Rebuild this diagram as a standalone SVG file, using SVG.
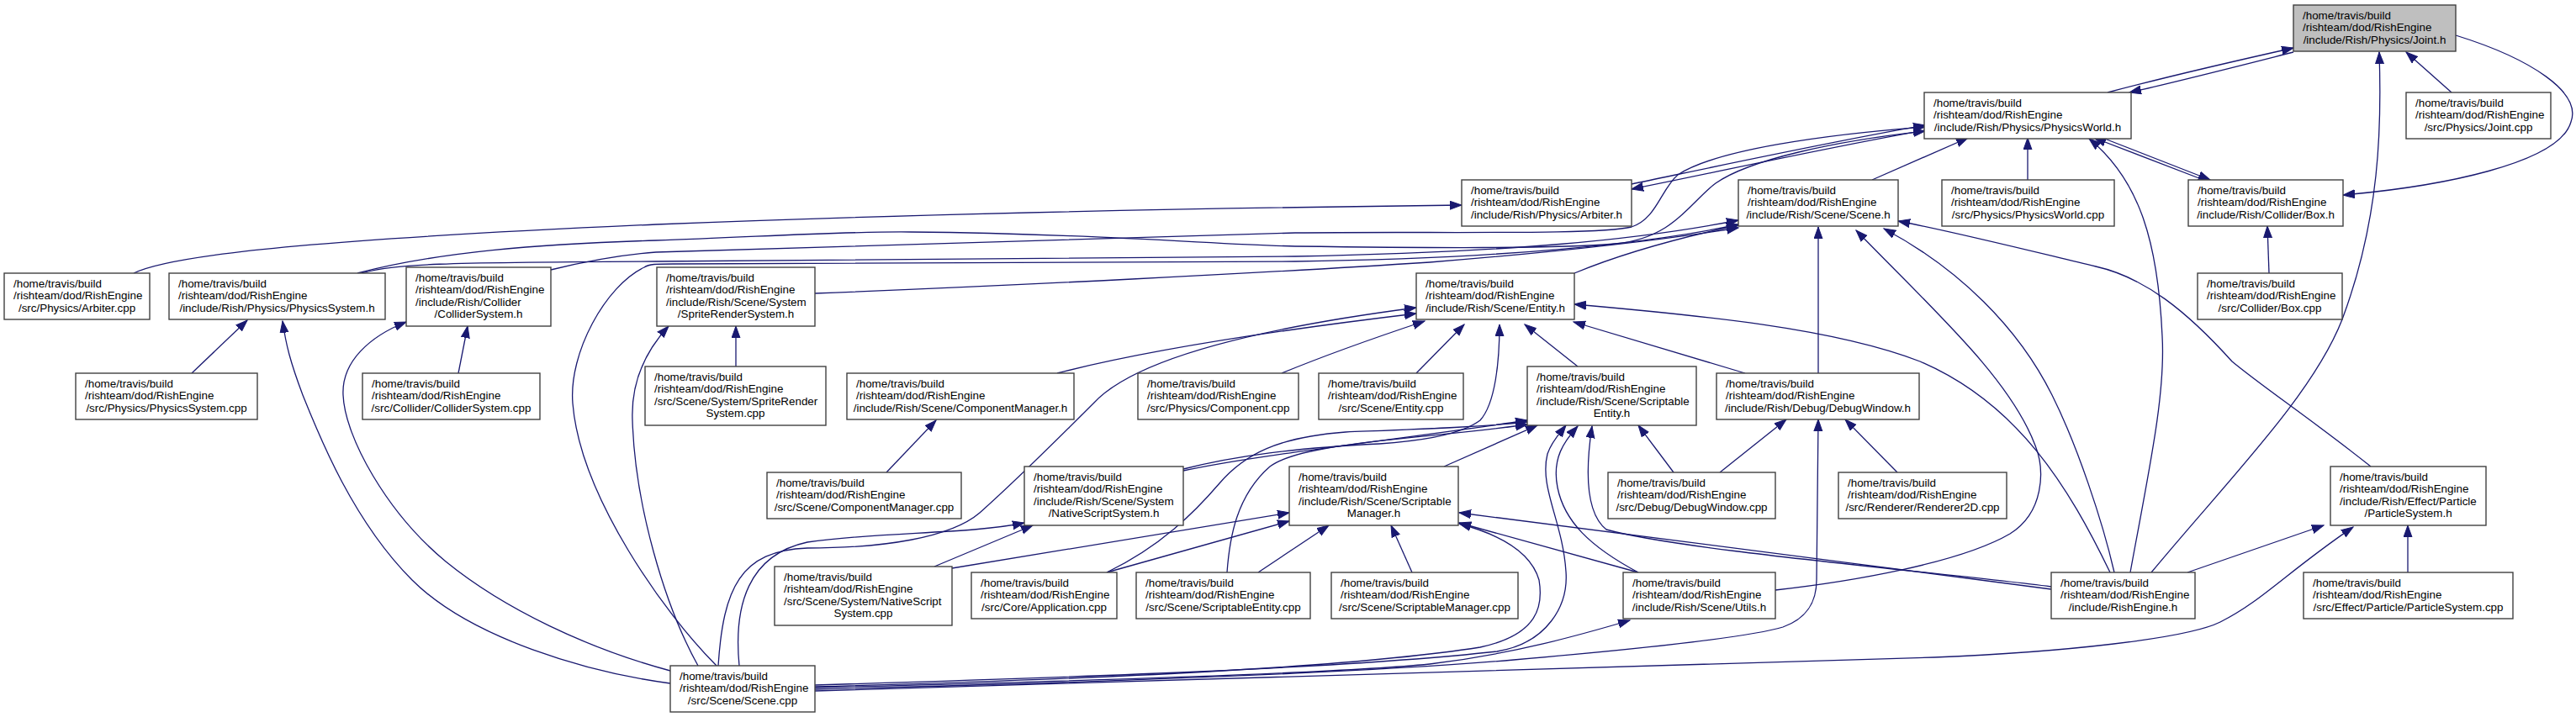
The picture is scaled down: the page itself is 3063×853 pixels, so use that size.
<svg xmlns="http://www.w3.org/2000/svg" width="3063" height="853" viewBox="0 0 3063 853">
<style>
.n rect{fill:#ffffff;stroke:#404040;stroke-width:1.4}
.n text{font-family:"Liberation Sans",Arial,sans-serif;font-size:13.4px;fill:#000000}
.n .c{text-anchor:middle}
.e path{fill:none;stroke:#191970;stroke-width:1.3;marker-end:url(#ah)}
</style>
<defs>
<marker id="ah" markerUnits="userSpaceOnUse" markerWidth="16" markerHeight="12" refX="14" refY="5.5" orient="auto" viewBox="0 0 16 12">
<path d="M0,0.5 L14,5.5 L0,10.5 z" fill="#191970" stroke="#191970" stroke-width="1"/>
</marker>
</defs>
<rect x="0" y="0" width="3063" height="853" fill="#ffffff"/>
<g id="edges" class="e">
<path d="M2506,110 C2570,93 2660,72 2727,57"/>
<path d="M2727,62 C2660,79 2590,97 2532,110"/>
<path d="M2915,110 L2861,62"/>
<path d="M2920,42 C3010,70 3070,110 3057,145 C3043,195 2900,222 2786,232"/>
<path d="M2558,681 C2650,570 2750,470 2785,380 C2830,260 2832,150 2829,62"/>
<path d="M2500,164 L2628,214"/>
<path d="M2620,214 L2490,164"/>
<path d="M2411,214 L2411,164"/>
<path d="M2698,325 L2696,269"/>
<path d="M2226,214 L2340,164"/>
<path d="M2533,681 C2555,560 2575,470 2571,400 C2566,290 2545,215 2484,165"/>
<path d="M1940,219 C2050,196 2180,168 2289,149"/>
<path d="M2289,155 C2180,174 2050,203 1940,225"/>
<path d="M159,325 C210,300 420,283 780,267 C1100,254 1400,248 1738,244"/>
<path d="M425,325 C520,300 640,290 780,286 C900,282 1000,275 1083,276 C1300,278 1450,291 1540,293 C1700,295 1850,296 1920,290 C1990,284 2010,240 2040,218 C2080,190 2180,168 2289,156"/>
<path d="M655,321 C700,310 740,303 780,300 C1100,290 1400,280 1540,277 C1700,275 1900,280 1940,270 C1970,260 1975,225 1995,208 C2040,178 2170,160 2289,151"/>
<path d="M430,325 C470,314 520,312 780,311 L1540,305 C1800,300 1950,285 2067,262"/>
<path d="M852,792 C790,730 690,590 681,480 C676,420 720,340 766,318 C772,314 780,314 800,314 L1540,311 C1800,307 1960,290 2067,267"/>
<path d="M969,349 C1200,340 1500,325 1700,312 C1850,300 1980,285 2067,271"/>
<path d="M1872,325 C1940,297 2010,280 2067,268"/>
<path d="M797,813 C700,800 560,760 490,690 C420,620 380,520 360,470 C345,430 340,410 336,382"/>
<path d="M797,798 C700,772 600,725 530,668 C460,610 410,520 408,470 C406,430 440,400 483,383"/>
<path d="M830,792 C790,720 755,600 752,500 C750,450 770,415 795,388"/>
<path d="M875,436 L875,388"/>
<path d="M228,444 L294,381"/>
<path d="M545,444 L556,388"/>
<path d="M879,792 C872,720 890,660 960,645 C1050,632 1150,636 1218,622"/>
<path d="M854,792 C860,700 880,655 960,652 C1050,652 1130,640 1165,610 C1210,570 1260,520 1300,480 C1350,425 1500,390 1684,366"/>
<path d="M1257,444 C1350,420 1500,395 1684,373"/>
<path d="M1054,562 L1113,500"/>
<path d="M1524,444 C1570,425 1640,400 1694,382"/>
<path d="M1684,444 L1741,386"/>
<path d="M1407,558 C1470,542 1540,533 1640,528 C1700,524 1740,515 1760,500 C1778,480 1783,430 1783,386"/>
<path d="M1407,560 C1500,540 1650,525 1816,500"/>
<path d="M1316,681 C1380,650 1420,610 1450,575 C1480,540 1520,520 1600,514 C1700,510 1760,508 1816,502"/>
<path d="M1459,681 C1462,640 1470,590 1510,555 C1550,525 1700,522 1816,505"/>
<path d="M1876,436 L1813,386"/>
<path d="M2075,444 L1871,383"/>
<path d="M2509,681 C2460,580 2400,480 2283,430 C2180,390 2020,375 1872,362"/>
<path d="M2162,444 L2162,270"/>
<path d="M2111,702 C2200,692 2330,670 2390,635 C2430,610 2432,560 2420,530 C2390,450 2300,370 2207,274"/>
<path d="M2514,681 C2500,620 2470,530 2440,470 C2400,390 2330,320 2240,272"/>
<path d="M2819,555 C2750,500 2690,460 2654,430 C2600,370 2550,330 2492,317 C2400,295 2320,275 2257,263"/>
<path d="M1717,555 L1828,506"/>
<path d="M1990,562 L1948,506"/>
<path d="M969,815 C1300,805 1600,795 1780,775 C1840,765 1865,720 1862,680 C1858,620 1830,580 1840,540 C1845,525 1855,515 1862,506"/>
<path d="M1948,681 C1890,650 1860,620 1852,580 C1845,545 1860,525 1876,507"/>
<path d="M2439,698 C2300,680 2000,655 1910,630 C1885,610 1885,560 1893,507"/>
<path d="M2439,701 C2200,670 1900,630 1735,610"/>
<path d="M1679,681 L1654,625"/>
<path d="M1496,681 L1580,625"/>
<path d="M1948,681 L1735,622"/>
<path d="M969,817 C1300,808 1600,795 1760,770 C1830,755 1835,720 1830,690 C1820,655 1780,635 1735,623"/>
<path d="M1132,676 L1533,610"/>
<path d="M1316,681 L1533,620"/>
<path d="M1111,674 L1228,625"/>
<path d="M969,818 C1300,810 1600,800 1700,790 C1800,778 1880,755 1938,738"/>
<path d="M2045,562 L2124,499"/>
<path d="M2256,562 L2194,499"/>
<path d="M969,820 C1300,812 1600,802 1800,785 C1950,772 2080,758 2120,746 C2150,735 2160,715 2160,690 L2162,499"/>
<path d="M969,822 C1300,815 1800,800 2300,782 C2450,776 2600,760 2640,740 C2690,715 2720,680 2798,627"/>
<path d="M2601,681 L2763,625"/>
<path d="M2863,681 L2863,625"/>
</g>
<g id="joint_h" class="n"><rect x="2727" y="6" width="193" height="55" style="fill:#bfbfbf"/><text x="2738" y="22.5">/home/travis/build</text><text x="2738" y="37">/rishteam/dod/RishEngine</text><text class="c" x="2823.5" y="51.5">/include/Rish/Physics/Joint.h</text></g>
<g id="physicsworld_h" class="n"><rect x="2288" y="110" width="246" height="55"/><text x="2299" y="126.5">/home/travis/build</text><text x="2299" y="141">/rishteam/dod/RishEngine</text><text class="c" x="2411" y="155.5">/include/Rish/Physics/PhysicsWorld.h</text></g>
<g id="joint_cpp" class="n"><rect x="2861" y="110" width="172" height="55"/><text x="2872" y="126.5">/home/travis/build</text><text x="2872" y="141">/rishteam/dod/RishEngine</text><text class="c" x="2947" y="155.5">/src/Physics/Joint.cpp</text></g>
<g id="arbiter_h" class="n"><rect x="1738" y="214" width="202" height="55"/><text x="1749" y="230.5">/home/travis/build</text><text x="1749" y="245">/rishteam/dod/RishEngine</text><text class="c" x="1839" y="259.5">/include/Rish/Physics/Arbiter.h</text></g>
<g id="scene_h" class="n"><rect x="2067" y="214" width="190" height="55"/><text x="2078" y="230.5">/home/travis/build</text><text x="2078" y="245">/rishteam/dod/RishEngine</text><text class="c" x="2162" y="259.5">/include/Rish/Scene/Scene.h</text></g>
<g id="physicsworld_cpp" class="n"><rect x="2309" y="214" width="205" height="55"/><text x="2320" y="230.5">/home/travis/build</text><text x="2320" y="245">/rishteam/dod/RishEngine</text><text class="c" x="2411.5" y="259.5">/src/Physics/PhysicsWorld.cpp</text></g>
<g id="box_h" class="n"><rect x="2602" y="214" width="184" height="55"/><text x="2613" y="230.5">/home/travis/build</text><text x="2613" y="245">/rishteam/dod/RishEngine</text><text class="c" x="2694" y="259.5">/include/Rish/Collider/Box.h</text></g>
<g id="arbiter_cpp" class="n"><rect x="5" y="325" width="173" height="55"/><text x="16" y="341.5">/home/travis/build</text><text x="16" y="356">/rishteam/dod/RishEngine</text><text class="c" x="91.5" y="370.5">/src/Physics/Arbiter.cpp</text></g>
<g id="physicssystem_h" class="n"><rect x="201" y="325" width="257" height="55"/><text x="212" y="341.5">/home/travis/build</text><text x="212" y="356">/rishteam/dod/RishEngine</text><text class="c" x="329.5" y="370.5">/include/Rish/Physics/PhysicsSystem.h</text></g>
<g id="collidersystem_h" class="n"><rect x="483" y="318" width="172" height="70"/><text x="494" y="334.5">/home/travis/build</text><text x="494" y="349">/rishteam/dod/RishEngine</text><text x="494" y="363.5">/include/Rish/Collider</text><text class="c" x="569" y="378">/ColliderSystem.h</text></g>
<g id="spriterendersystem_h" class="n"><rect x="781" y="318" width="188" height="70"/><text x="792" y="334.5">/home/travis/build</text><text x="792" y="349">/rishteam/dod/RishEngine</text><text x="792" y="363.5">/include/Rish/Scene/System</text><text class="c" x="875" y="378">/SpriteRenderSystem.h</text></g>
<g id="entity_h" class="n"><rect x="1684" y="325" width="188" height="55"/><text x="1695" y="341.5">/home/travis/build</text><text x="1695" y="356">/rishteam/dod/RishEngine</text><text class="c" x="1778" y="370.5">/include/Rish/Scene/Entity.h</text></g>
<g id="box_cpp" class="n"><rect x="2613" y="325" width="172" height="55"/><text x="2624" y="341.5">/home/travis/build</text><text x="2624" y="356">/rishteam/dod/RishEngine</text><text class="c" x="2699" y="370.5">/src/Collider/Box.cpp</text></g>
<g id="physicssystem_cpp" class="n"><rect x="90" y="444" width="216" height="55"/><text x="101" y="460.5">/home/travis/build</text><text x="101" y="475">/rishteam/dod/RishEngine</text><text class="c" x="198" y="489.5">/src/Physics/PhysicsSystem.cpp</text></g>
<g id="collidersystem_cpp" class="n"><rect x="431" y="444" width="211" height="55"/><text x="442" y="460.5">/home/travis/build</text><text x="442" y="475">/rishteam/dod/RishEngine</text><text class="c" x="536.5" y="489.5">/src/Collider/ColliderSystem.cpp</text></g>
<g id="spriterendersystem_cpp" class="n"><rect x="767" y="436" width="215" height="70"/><text x="778" y="452.5">/home/travis/build</text><text x="778" y="467">/rishteam/dod/RishEngine</text><text x="778" y="481.5">/src/Scene/System/SpriteRender</text><text class="c" x="874.5" y="496">System.cpp</text></g>
<g id="componentmanager_h" class="n"><rect x="1007" y="444" width="270" height="55"/><text x="1018" y="460.5">/home/travis/build</text><text x="1018" y="475">/rishteam/dod/RishEngine</text><text class="c" x="1142" y="489.5">/include/Rish/Scene/ComponentManager.h</text></g>
<g id="component_cpp" class="n"><rect x="1353" y="444" width="191" height="55"/><text x="1364" y="460.5">/home/travis/build</text><text x="1364" y="475">/rishteam/dod/RishEngine</text><text class="c" x="1448.5" y="489.5">/src/Physics/Component.cpp</text></g>
<g id="entity_cpp" class="n"><rect x="1568" y="444" width="172" height="55"/><text x="1579" y="460.5">/home/travis/build</text><text x="1579" y="475">/rishteam/dod/RishEngine</text><text class="c" x="1654" y="489.5">/src/Scene/Entity.cpp</text></g>
<g id="scriptableentity_h" class="n"><rect x="1816" y="436" width="201" height="70"/><text x="1827" y="452.5">/home/travis/build</text><text x="1827" y="467">/rishteam/dod/RishEngine</text><text x="1827" y="481.5">/include/Rish/Scene/Scriptable</text><text class="c" x="1916.5" y="496">Entity.h</text></g>
<g id="debugwindow_h" class="n"><rect x="2041" y="444" width="241" height="55"/><text x="2052" y="460.5">/home/travis/build</text><text x="2052" y="475">/rishteam/dod/RishEngine</text><text class="c" x="2161.5" y="489.5">/include/Rish/Debug/DebugWindow.h</text></g>
<g id="componentmanager_cpp" class="n"><rect x="912" y="562" width="231" height="55"/><text x="923" y="578.5">/home/travis/build</text><text x="923" y="593">/rishteam/dod/RishEngine</text><text class="c" x="1027.5" y="607.5">/src/Scene/ComponentManager.cpp</text></g>
<g id="nativescriptsystem_h" class="n"><rect x="1218" y="555" width="189" height="70"/><text x="1229" y="571.5">/home/travis/build</text><text x="1229" y="586">/rishteam/dod/RishEngine</text><text x="1229" y="600.5">/include/Rish/Scene/System</text><text class="c" x="1312.5" y="615">/NativeScriptSystem.h</text></g>
<g id="scriptablemanager_h" class="n"><rect x="1533" y="555" width="201" height="70"/><text x="1544" y="571.5">/home/travis/build</text><text x="1544" y="586">/rishteam/dod/RishEngine</text><text x="1544" y="600.5">/include/Rish/Scene/Scriptable</text><text class="c" x="1633.5" y="615">Manager.h</text></g>
<g id="debugwindow_cpp" class="n"><rect x="1912" y="562" width="199" height="55"/><text x="1923" y="578.5">/home/travis/build</text><text x="1923" y="593">/rishteam/dod/RishEngine</text><text class="c" x="2011.5" y="607.5">/src/Debug/DebugWindow.cpp</text></g>
<g id="renderer2d_cpp" class="n"><rect x="2186" y="562" width="200" height="55"/><text x="2197" y="578.5">/home/travis/build</text><text x="2197" y="593">/rishteam/dod/RishEngine</text><text class="c" x="2286" y="607.5">/src/Renderer/Renderer2D.cpp</text></g>
<g id="particlesystem_h" class="n"><rect x="2771" y="555" width="185" height="70"/><text x="2782" y="571.5">/home/travis/build</text><text x="2782" y="586">/rishteam/dod/RishEngine</text><text x="2782" y="600.5">/include/Rish/Effect/Particle</text><text class="c" x="2863.5" y="615">/ParticleSystem.h</text></g>
<g id="nativescriptsystem_cpp" class="n"><rect x="921" y="674" width="211" height="70"/><text x="932" y="690.5">/home/travis/build</text><text x="932" y="705">/rishteam/dod/RishEngine</text><text x="932" y="719.5">/src/Scene/System/NativeScript</text><text class="c" x="1026.5" y="734">System.cpp</text></g>
<g id="application_cpp" class="n"><rect x="1155" y="681" width="173" height="55"/><text x="1166" y="697.5">/home/travis/build</text><text x="1166" y="712">/rishteam/dod/RishEngine</text><text class="c" x="1241.5" y="726.5">/src/Core/Application.cpp</text></g>
<g id="scriptableentity_cpp" class="n"><rect x="1351" y="681" width="207" height="55"/><text x="1362" y="697.5">/home/travis/build</text><text x="1362" y="712">/rishteam/dod/RishEngine</text><text class="c" x="1454.5" y="726.5">/src/Scene/ScriptableEntity.cpp</text></g>
<g id="scriptablemanager_cpp" class="n"><rect x="1583" y="681" width="222" height="55"/><text x="1594" y="697.5">/home/travis/build</text><text x="1594" y="712">/rishteam/dod/RishEngine</text><text class="c" x="1694" y="726.5">/src/Scene/ScriptableManager.cpp</text></g>
<g id="utils_h" class="n"><rect x="1930" y="681" width="181" height="55"/><text x="1941" y="697.5">/home/travis/build</text><text x="1941" y="712">/rishteam/dod/RishEngine</text><text class="c" x="2020.5" y="726.5">/include/Rish/Scene/Utils.h</text></g>
<g id="rishengine_h" class="n"><rect x="2439" y="681" width="171" height="55"/><text x="2450" y="697.5">/home/travis/build</text><text x="2450" y="712">/rishteam/dod/RishEngine</text><text class="c" x="2524.5" y="726.5">/include/RishEngine.h</text></g>
<g id="particlesystem_cpp" class="n"><rect x="2739" y="681" width="249" height="55"/><text x="2750" y="697.5">/home/travis/build</text><text x="2750" y="712">/rishteam/dod/RishEngine</text><text class="c" x="2863.5" y="726.5">/src/Effect/Particle/ParticleSystem.cpp</text></g>
<g id="scene_cpp" class="n"><rect x="797" y="792" width="172" height="55"/><text x="808" y="808.5">/home/travis/build</text><text x="808" y="823">/rishteam/dod/RishEngine</text><text class="c" x="883" y="837.5">/src/Scene/Scene.cpp</text></g>
</svg>
